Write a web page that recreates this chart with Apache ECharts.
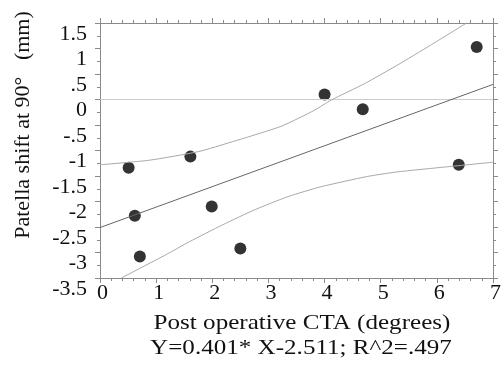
<!DOCTYPE html>
<html><head><meta charset="utf-8">
<script src="https://cdn.jsdelivr.net/npm/echarts@6/dist/echarts.min.js"></script>
<style>html,body{margin:0;padding:0;background:#fff}#c{width:504px;height:372px}</style>
</head><body><div id="c"></div>
<script>
// Data
const pointsX = [0.51, 1.61, 0.62, 0.71, 1.99, 2.50, 4.00, 4.68, 6.39, 6.71];
const pointsY = [-1.34, -1.12, -2.28, -3.08, -2.10, -2.92, 0.10, -0.19, -1.28, 1.03];
const fitLine = [[0, -2.511], [7, 0.296]];
const upperBand = [[0,-1.28],[0.88,-1.19],[1.76,-1.02],[2.35,-0.83],[2.65,-0.73],[3.24,-0.52],[3.82,-0.21],[4.12,-0.01],[4.71,0.31],[5.29,0.67],[5.88,1.06],[6.53,1.5]];
const lowerBand = [[0.38,-3.5],[1.18,-3.04],[1.59,-2.79],[2.18,-2.46],[2.76,-2.16],[3.36,-1.90],[3.94,-1.71],[4.76,-1.51],[5.29,-1.42],[6.18,-1.32],[7,-1.23]];
const zeroLine = [[0,0],[7,0]];
const yTickLabels = {'1.5':'1.5','1':'1','0.5':'.5','0':'0','-0.5':'-.5','-1':'-1','-1.5':'-1.5','-2':'-2','-2.5':'-2.5','-3':'-3','-3.5':'-3.5'};
const xTitle = 'Post operative CTA (degrees)';
const eqText = 'Y=0.401* X-2.511; R^2=.497';
const yTitle = 'Patella shift at 90°   (mm)';

const FONT = '"Liberation Serif", "Times New Roman", serif';
const frame = '#8a8a8a';
const chart = echarts.init(document.getElementById('c'));
const axLine = {show:true, onZero:false, lineStyle:{color:frame, width:1}};
const tick = {show:true, inside:false, length:5, lineStyle:{color:frame}};
const minor = {show:true, length:3, lineStyle:{color:frame}};
chart.setOption({
  animation:false,
  grid:{left:100, right:7, top:23, bottom:94},
  xAxis:[
    {type:'value', min:0, max:7, interval:1, position:'bottom',
     axisLine:axLine, axisTick:tick, minorTick:Object.assign({splitNumber:5},minor),
     splitLine:{show:false},
     axisLabel:{fontFamily:FONT, fontSize:22, color:'#111', margin:4, padding:[0,0,0,5]}},
    {type:'value', min:0, max:7, interval:1, position:'top',
     axisLine:axLine, axisTick:tick, minorTick:Object.assign({splitNumber:5},minor),
     splitLine:{show:false}, axisLabel:{show:false}}
  ],
  yAxis:[
    {type:'value', min:-3.5, max:1.5, interval:0.5, position:'left',
     axisLine:axLine, axisTick:tick, minorTick:Object.assign({splitNumber:2},minor),
     splitLine:{show:false},
     axisLabel:{fontFamily:FONT, fontSize:22, color:'#111', margin:13, verticalAlign:'top',
       formatter:v=>yTickLabels[String(v)] ?? String(v)}},
    {type:'value', min:-3.5, max:1.5, interval:0.5, position:'right',
     axisLine:axLine, axisTick:tick, minorTick:Object.assign({splitNumber:2},minor),
     splitLine:{show:false}, axisLabel:{show:false}}
  ],
  series:[
    {type:'line', data:zeroLine, symbol:'none', lineStyle:{color:'#cccccc', width:1}, silent:true},
    {type:'line', data:upperBand, symbol:'none', smooth:0.2, lineStyle:{color:'#a8a8a8', width:1}, silent:true},
    {type:'line', data:lowerBand, symbol:'none', smooth:0.2, lineStyle:{color:'#a8a8a8', width:1}, silent:true},
    {type:'line', data:fitLine, symbol:'none', lineStyle:{color:'#666', width:1}, silent:true},
    {type:'scatter', data:pointsX.map((x,i)=>[x,pointsY[i]]), symbol:'circle', symbolSize:12,
     itemStyle:{color:'#000'}}
  ],
  graphic:[
    {type:'text', x:302, y:312, scaleX:1.14, style:{text:xTitle, font:'22px '+FONT, fill:'#111', align:'center', verticalAlign:'top'}},
    {type:'text', x:301, y:337, scaleX:1.14, style:{text:eqText, font:'22px '+FONT, fill:'#111', align:'center', verticalAlign:'top'}},
    {type:'text', x:12, y:125, rotation:Math.PI/2, style:{text:yTitle, font:'22px '+FONT, fill:'#111', align:'center', verticalAlign:'top'}}
  ]
});
</script></body></html>
